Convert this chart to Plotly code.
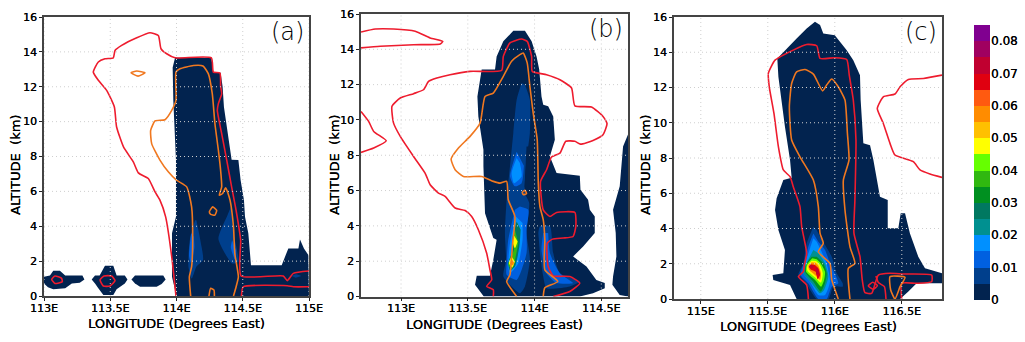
import plotly.graph_objects as go

# values: (longitude, altitude km)
a_navy = [(114.0,0),(113.966,1.1),(113.966,3.6),(113.996,4.55),(113.996,7.8),(113.976,11.2),(113.971,13.1),(113.989,13.66),(114.263,13.66),(114.278,12.84),(114.333,12.8),(114.348,12),(114.358,10.84),(114.386,9.3),(114.416,7.82),(114.467,7.8),(114.484,6.64),(114.509,5.5),(114.517,4.54),(114.542,3.6),(114.562,1.77),(114.794,1.77),(114.844,2.73),(114.92,2.73),(114.932,3.24),(114.962,2.73),(114.995,2.35),(115,0)]
a_blob1 = [(113.0,1.1),(113.045,1.18),(113.07,1.45),(113.12,1.45),(113.16,1.18),(113.29,1.18),(113.305,0.95),(113.27,0.76),(113.21,0.72),(113.16,0.44),(113.07,0.38),(113.03,0.5),(113.0,0.72)]
a_blob2 = [(113.36,0.95),(113.385,1.18),(113.42,1.18),(113.46,1.74),(113.523,1.74),(113.548,1.18),(113.61,1.18),(113.63,0.95),(113.61,0.72),(113.548,0.38),(113.523,0.06),(113.448,0.06),(113.41,0.44),(113.385,0.72)]
a_blob3 = [(113.66,0.95),(113.687,1.18),(113.9,1.18),(113.918,0.95),(113.888,0.69),(113.85,0.53),(113.725,0.53),(113.687,0.72)]
a_blue_left = [(114.14,4.35),(114.1,3.2),(114.09,1.68),(114.115,1.0),(114.15,1.68),(114.2,2.06),(114.18,3.2),(114.15,4.35)]
a_blue_right = [(114.38,4.54),(114.316,3.3),(114.366,2.44),(114.42,1.87),(114.467,1.97),(114.43,3.6),(114.41,5.1)]
a_blue_low = [(114.87,1.15),(114.9,1.25),(114.94,1.15),(114.9,1.05)]
a_mid_left = [(114.11,3.6),(114.095,2.3),(114.11,1.9),(114.135,2.8),(114.13,3.4)]
a_mid_right = [(114.42,3.2),(114.41,2.8),(114.44,2.1),(114.45,2.6)]
a_red_main = [(113.996,0),(113.964,2.25),(113.918,4.54),(113.875,5.5),(113.838,5.97),(113.787,6.74),(113.712,7.06),(113.674,7.69),(113.6,8.55),(113.548,9.69),(113.531,10.84),(113.473,11.79),(113.41,12.37),(113.372,12.84),(113.41,13.42),(113.46,13.6),(113.523,13.66),(113.536,14.08),(113.586,14.37),(113.7,14.81),(113.8,15.1),(113.863,14.94),(113.883,14.18),(113.926,13.89),(113.989,13.66),(114.263,13.66),(114.278,12.84),(114.328,12.79),(114.333,12.02),(114.341,11.6),(114.316,11.03),(114.308,10.65),(114.341,9.31),(114.379,7.79),(114.416,6.26),(114.454,4.73),(114.484,3.2),(114.487,1.15),(114.806,1.15),(114.836,0.88),(114.882,1.3),(115,1.43)]
a_red_low = [(114.49,0),(114.504,0.53),(114.836,0.59),(114.882,0.53),(115,0.53)]
a_red_small1 = [(113.058,0.95),(113.083,1.15),(113.133,1.01),(113.138,0.82),(113.083,0.72),(113.058,0.95)]
a_red_small2 = [(113.423,0.92),(113.453,1.15),(113.51,1.15),(113.536,0.88),(113.498,0.57),(113.448,0.57),(113.423,0.92)]
a_orange_main = [(114.107,0),(114.097,1.1),(114.114,1.68),(114.122,3.2),(114.114,5.11),(114.077,6.26),(114.0,6.64),(113.938,7.12),(113.875,7.79),(113.8125,8.74),(113.805,9.5),(113.838,10.04),(113.913,10.11),(113.964,10.65),(113.996,11.22),(113.996,12.84),(114.026,13.03),(114.127,13.22),(114.2,13.19),(114.24,12.75),(114.27,11.6),(114.29,9.88),(114.316,8.36),(114.333,7.21),(114.341,6.26),(114.323,5.78),(114.348,5.88),(114.371,6.2),(114.404,5.5),(114.43,3.97),(114.44,2.44),(114.467,1.1),(114.45,0.53),(114.43,0)]
a_orange_top = [(113.657,12.8),(113.7,12.9),(113.762,12.8),(113.71,12.61),(113.657,12.8)]
a_orange_mid = [(114.248,4.83),(114.273,5.11),(114.303,4.92),(114.29,4.64),(114.258,4.68),(114.248,4.83)]
a_orange_low = [(114.245,0),(114.258,0.44),(114.283,0.34),(114.286,0)]

b_navy = [(113.62,0),(113.554,0.66),(113.567,1.17),(113.666,1.17),(113.691,2.08),(113.716,3.21),(113.691,3.31),(113.629,4.72),(113.617,7.37),(113.617,8.31),(113.579,10.2),(113.572,11.33),(113.604,12.85),(113.704,12.85),(113.716,13.6),(113.766,14.45),(113.841,15.05),(113.928,15.05),(113.978,14.45),(114.015,13.6),(114.035,12.85),(114.052,11.33),(114.065,10.86),(114.102,10.77),(114.14,10.2),(114.152,8.88),(114.115,7.93),(114.165,6.99),(114.339,6.84),(114.344,6.04),(114.401,5.48),(114.414,4.91),(114.451,4.53),(114.451,3.59),(114.364,2.83),(114.289,2.27),(114.389,1.7),(114.463,0.94),(114.526,0.76),(114.526,0.47),(114.438,0.19),(114.339,0)]
b_navy_right = [(114.7,9.17),(114.663,8.5),(114.638,6.24),(114.588,4.91),(114.608,3.59),(114.613,2.27),(114.588,1.13),(114.583,0.66),(114.638,0.09),(114.7,0)]
b_blue_center = [(113.903,12.09),(113.866,11.15),(113.841,9.26),(113.816,7.37),(113.791,5.48),(113.778,3.59),(113.786,2.08),(113.766,1.13),(113.828,0.57),(113.891,0.19),(113.928,0.57),(113.965,2.08),(113.94,3.59),(113.96,5.29),(113.928,5.86),(113.94,7.75),(113.965,9.26),(113.965,11.15),(113.928,12.0)]
b_blue_right = [(114.028,3.59),(114.04,3.97),(114.115,3.97),(114.14,2.46),(114.19,1.32),(114.339,0.85),(114.264,0.57),(114.09,0.47),(114.065,1.13),(114.04,2.46)]
b_navy_hole = [(113.925,6.2),(113.94,8.5),(113.978,8.5),(113.983,7.4),(113.965,5.7)]
b_mid_upper = [(113.866,8.2),(113.816,6.8),(113.853,6.24),(113.903,6.42),(113.92,7.4)]
b_mid_lower = [(113.853,4.91),(113.803,3.21),(113.791,1.89),(113.791,1.23),(113.866,0.94),(113.94,2.46),(113.94,3.78),(113.953,4.91),(113.89,5.1)]
b_mid_right = [(114.065,3.59),(114.052,2.65),(114.09,1.32),(114.165,0.76),(114.289,0.76),(114.19,1.32),(114.115,2.46),(114.102,3.59)]
b_light_upper = [(113.866,7.84),(113.828,6.99),(113.846,6.42),(113.903,6.8),(113.89,7.56)]
b_light_lower = [(113.86,4.53),(113.816,3.02),(113.803,1.7),(113.816,1.32),(113.878,1.89),(113.91,3.21),(113.91,4.16)]
b_teal = [(113.866,4.25),(113.836,3.4),(113.828,2.46),(113.803,1.89),(113.816,1.47),(113.853,1.7),(113.886,2.83),(113.896,3.78)]
b_green = [(113.853,3.78),(113.836,3.21),(113.846,2.65),(113.816,2.17),(113.803,1.8),(113.828,1.55),(113.853,2.08),(113.878,3.02)]
b_yellow_upper = [(113.848,3.44),(113.836,3.12),(113.853,2.74),(113.873,3.12)]
b_yellow_lower = [(113.828,2.27),(113.808,1.89),(113.833,1.64),(113.853,1.98)]
b_orange_spot = [(113.828,2.08),(113.818,1.85),(113.841,1.76),(113.846,1.98)]
b_red_main = [(113.691,0),(113.691,0.38),(113.641,0.57),(113.679,0.94),(113.666,1.51),(113.641,2.46),(113.579,3.78),(113.529,4.53),(113.48,4.87),(113.405,5.01),(113.33,5.67),(113.28,5.86),(113.218,6.33),(113.18,6.99),(113.094,7.93),(112.994,9.07),(112.944,9.82),(112.932,10.77),(112.994,11.24),(113.094,11.49),(113.168,11.71),(113.206,12.18),(113.268,12.37),(113.367,12.56),(113.517,12.75),(113.754,12.81),(113.766,13.6),(113.816,14.36),(113.903,14.58),(113.945,14.45),(113.978,13.6),(113.983,12.75),(114.09,12.56),(114.19,12.28),(114.277,11.81),(114.302,10.8),(114.426,10.73),(114.513,10.2),(114.543,9.79),(114.513,9.16),(114.438,8.84),(114.344,8.63),(114.302,8.79),(114.234,8.79),(114.19,8.12),(114.127,7.9),(114.09,7.18),(114.045,6.52),(114.065,4.91),(114.115,4.53),(114.165,4.76),(114.302,4.76),(114.309,3.97),(114.289,3.4),(114.214,3.31),(114.135,3.25),(114.095,3.02),(114.102,1.7),(114.14,1.17),(114.264,1.13),(114.339,0.76),(114.264,0.28),(114.14,0)]
b_red_top = [(112.7,14.98),(112.807,15.15),(112.944,15.15),(113.106,15.02),(113.218,14.64),(113.313,14.45),(113.293,14.3),(113.094,14.26),(112.844,14.17),(112.7,14.08)]
b_red_left = [(112.7,10.48),(112.757,9.92),(112.795,9.35),(112.889,8.82),(112.795,8.41),(112.7,8.16)]
b_orange_main = [(113.866,0),(113.791,0.85),(113.816,1.23),(113.828,2.27),(113.836,3.02),(113.853,4.53),(113.803,5.48),(113.791,6.52),(113.741,6.42),(113.691,6.52),(113.604,6.8),(113.467,6.8),(113.405,7.18),(113.375,7.78),(113.43,8.41),(113.517,9.07),(113.592,9.82),(113.629,11.33),(113.691,11.52),(113.766,12.47),(113.828,13.32),(113.89,13.7),(113.915,13.79),(113.945,13.23),(113.965,11.9),(113.99,10.39),(114.02,8.88),(114.028,6.42),(114.04,5.1),(114.065,4.35),(114.077,3.21),(114.077,1.51),(114.174,0.85),(114.077,0.49),(114.065,0)]
b_orange_small = [(113.908,5.9),(113.928,6.01),(113.94,5.82),(113.915,5.77),(113.908,5.9)]

c_navy = [(115.715,0),(115.666,0.79),(115.541,1.08),(115.536,1.36),(115.616,1.46),(115.628,2.78),(115.579,3.91),(115.554,5.05),(115.566,5.71),(115.616,6.75),(115.678,6.88),(115.666,7.88),(115.628,9.77),(115.579,12.61),(115.571,13.65),(115.64,14.22),(115.715,14.78),(115.79,15.35),(115.852,15.73),(115.89,15.54),(115.914,15.07),(116.0,14.97),(116.089,14.12),(116.138,13.55),(116.188,12.7),(116.193,11.29),(116.213,8.83),(116.263,8.73),(116.288,7.88),(116.337,5.8),(116.395,5.61),(116.395,4.01),(116.474,4.01),(116.492,4.86),(116.524,4.86),(116.561,3.72),(116.623,2.4),(116.673,1.74),(116.8,1.46),(116.8,0.89),(116.611,0.89),(116.549,0.42),(116.487,0)]
c_blue_dark = [(115.84,4.1),(115.79,3.16),(115.765,2.02),(115.728,1.36),(115.778,0.98),(115.865,0),(115.952,0),(115.989,0.7),(116.059,0.7),(116.059,0.89),(116.014,1.46),(115.977,2.4),(115.927,3.06),(115.902,3.35),(115.865,3.91)]
c_blue_mid = [(115.84,3.72),(115.802,2.97),(115.778,2.21),(115.745,1.36),(115.802,0.89),(115.877,0),(115.939,0),(115.977,0.7),(116.026,0.89),(115.964,2.02),(115.927,2.78),(115.877,3.25)]
c_blue_light = [(115.84,3.44),(115.815,2.87),(115.778,2.02),(115.765,1.46),(115.815,0.98),(115.877,0.23),(115.927,0.23),(115.964,0.98),(115.939,2.02),(115.89,2.87),(115.865,3.25)]
c_teal = [(115.781,1.93),(115.766,1.46),(115.827,0.89),(115.89,0.32),(115.92,0.51),(115.952,1.27),(115.927,2.02),(115.877,2.59),(115.84,2.78)]
c_green = [(115.827,2.4),(115.79,2.02),(115.778,1.55),(115.84,0.98),(115.895,0.42),(115.927,0.89),(115.94,1.46),(115.914,2.02),(115.865,2.4)]
c_lime = [(115.832,2.31),(115.79,1.93),(115.786,1.55),(115.853,1.08),(115.898,0.7),(115.92,1.08),(115.927,1.55),(115.895,2.02),(115.865,2.25)]
c_yellow = [(115.827,2.17),(115.795,1.89),(115.795,1.61),(115.86,1.17),(115.897,0.93),(115.91,1.46),(115.89,1.93),(115.86,2.15)]
c_orange = [(115.827,2.08),(115.802,1.89),(115.81,1.64),(115.865,1.27),(115.89,1.08),(115.897,1.46),(115.877,1.89),(115.857,2.06)]
c_red = [(115.822,1.97),(115.807,1.83),(115.82,1.68),(115.857,1.55),(115.872,1.12),(115.89,1.36),(115.877,1.74),(115.852,1.93)]
c_crimson1 = [(115.82,1.93),(115.807,1.83),(115.832,1.74),(115.845,1.87)]
c_crimson2 = [(115.857,1.74),(115.865,1.36),(115.882,1.46),(115.872,1.78)]
c_red_main = [(115.803,0),(115.79,0.79),(115.728,1.27),(115.765,1.55),(115.773,1.93),(115.79,2.59),(115.753,4.1),(115.74,5.24),(115.69,6.37),(115.666,6.94),(115.616,7.32),(115.579,8.64),(115.546,10.53),(115.511,12.04),(115.504,12.8),(115.554,13.55),(115.69,14.12),(115.79,14.44),(115.865,14.37),(115.89,13.65),(116.0,13.69),(116.089,13.59),(116.108,12.7),(116.138,11.29),(116.158,9.02),(116.15,5.61),(116.143,3.72),(116.188,2.4),(116.205,1.08),(116.225,0.36),(116.275,0.32),(116.325,1.36),(116.412,1.46),(116.511,1.42),(116.723,1.36),(116.723,0.98),(116.611,0.89),(116.499,0.89),(116.499,0)]
c_red_circle = [(116.25,0.74),(116.283,0.95),(116.318,0.76),(116.288,0.55),(116.25,0.74)]
c_red_inner = [(116.382,0),(116.37,0.7),(116.325,0.93),(116.307,1.3)]
c_red_right = [(116.8,12.7),(116.661,12.51),(116.549,12.46),(116.487,12.04),(116.449,11.63),(116.362,11.47),(116.317,10.81),(116.362,9.96),(116.412,8.83),(116.449,8.17),(116.586,7.79),(116.636,7.32),(116.71,7.09),(116.8,6.9)]
c_orange_main = [(116.026,0),(115.977,1.1),(115.964,2.02),(115.877,2.68),(115.914,3.16),(115.89,3.72),(115.877,5.24),(115.84,6.75),(115.74,8.07),(115.678,9.02),(115.661,10.91),(115.678,12.23),(115.715,12.89),(115.778,13.02),(115.84,12.76),(115.909,11.81),(115.939,12.14),(115.977,12.48),(116.026,12.04),(116.076,11.29),(116.094,9.4),(116.106,7.88),(116.064,6.75),(116.076,5.05),(116.113,2.97),(116.15,2.02),(116.101,1.74),(116.113,0)]
c_orange_small = [(116.449,0),(116.417,0.51),(116.412,1.27),(116.524,1.23),(116.487,0.7),(116.449,0)]

a_ticks = [113, 113.5, 114, 114.5, 115]
a_ticktext = ["113E", "113.5E", "114E", "114.5E", "115E"]
b_ticks = [113, 113.5, 114, 114.5]
b_ticktext = ["113E", "113.5E", "114E", "114.5E"]
c_ticks = [115, 115.5, 116, 116.5]
c_ticktext = ["115E", "115.5E", "116E", "116.5E"]
alt_ticks = [0, 2, 4, 6, 8, 10, 12, 14, 16]

level_colors = ["#02234f", "#003f8c", "#0060e0", "#0090ff", "#009090", "#007860", "#009020", "#30b810", "#66ff00",
                "#ffff00", "#ffc000", "#ff8c00", "#ff5a10", "#e00010", "#c00030", "#a00060", "#800090"]
level_mid = [0.0025, 0.0075, 0.0125, 0.0175, 0.0225, 0.0275, 0.0325, 0.0375, 0.0425,
             0.0475, 0.0525, 0.0575, 0.0625, 0.0675, 0.0725, 0.0775, 0.0825]
bar_ticks = [0, 0.01, 0.02, 0.03, 0.04, 0.05, 0.06, 0.07, 0.08]
bar_ticktext = ["0", "0.01", "0.02", "0.03", "0.04", "0.05", "0.06", "0.07", "0.08"]

RED = "#ee1c2e"
ORANGE = "#f07820"
W, H = 1025, 342
GRID = "#cfcfcf"
# a hair of text shadow thickens the glyphs to match the heavy look of the original labels
TEXT = dict(family="DejaVu Sans", color="#000", shadow="0.25px 0 0 #000")

panels = [
    dict(name="(a)", xrange=[113, 115], box=(44, 309, 17, 296), ticks=a_ticks, ticktext=a_ticktext, ytitle_x=16, xtitle_y=323.5,
         fills=[(a_navy, 0), (a_blob1, 0), (a_blob2, 0), (a_blob3, 0), (a_blue_left, 1), (a_blue_right, 1),
                (a_blue_low, 1), (a_mid_left, 2), (a_mid_right, 2)],
         reds=[a_red_main, a_red_low, a_red_small1, a_red_small2],
         oranges=[a_orange_main, a_orange_top, a_orange_mid, a_orange_low]),
    dict(name="(b)", xrange=[112.7, 114.7], box=(361, 628, 14, 296.5), ticks=b_ticks, ticktext=b_ticktext, ytitle_x=335, xtitle_y=324,
         fills=[(b_navy, 0), (b_navy_right, 0), (b_blue_center, 1), (b_blue_right, 1), (b_navy_hole, 0),
                (b_mid_upper, 2), (b_mid_lower, 2), (b_mid_right, 2), (b_light_upper, 3), (b_light_lower, 3),
                (b_teal, 5), (b_green, 7), (b_yellow_upper, 9), (b_yellow_lower, 9), (b_orange_spot, 11)],
         reds=[b_red_main, b_red_top, b_red_left],
         oranges=[b_orange_main, b_orange_small]),
    dict(name="(c)", xrange=[114.8, 116.8], box=(674, 942, 17, 299), ticks=c_ticks, ticktext=c_ticktext, ytitle_x=646, xtitle_y=326,
         fills=[(c_navy, 0), (c_blue_dark, 1), (c_blue_mid, 2), (c_blue_light, 3), (c_teal, 4), (c_green, 6),
                (c_lime, 8), (c_yellow, 9), (c_orange, 11), (c_red, 13), (c_crimson1, 14), (c_crimson2, 14)],
         reds=[c_red_main, c_red_circle, c_red_inner, c_red_right],
         oranges=[c_orange_main, c_orange_small]),
]

fig = go.Figure()


def add_outline(points, axis_id, color, fill=False, smooth=True):
    trace = go.Scatter(x=[p[0] for p in points], y=[p[1] for p in points], mode="lines",
                       xaxis="x" + axis_id, yaxis="y" + axis_id, hoverinfo="skip", showlegend=False)
    if fill:
        trace.fill = "toself"
        trace.fillcolor = color
        trace.line = dict(width=0, shape="spline" if smooth else "linear", smoothing=0.6)
    else:
        trace.line = dict(color=color, width=1.6, shape="spline", smoothing=0.5)
    fig.add_trace(trace)


layout = {}
axis_ids = ["", "2", "3"]
for axis_id, p in zip(axis_ids, panels):
    for pts, lev in p["fills"]:
        add_outline(pts, axis_id, level_colors[lev], fill=True, smooth=lev > 0)
    for pts in p["reds"]:
        add_outline(pts, axis_id, RED)
    for pts in p["oranges"]:
        add_outline(pts, axis_id, ORANGE)

    x0, x1, y0, y1 = p["box"]
    layout["xaxis" + axis_id] = dict(
        domain=[x0 / W, x1 / W], range=p["xrange"], anchor="y" + axis_id, tickvals=p["ticks"],
        ticktext=p["ticktext"], ticks="outside", ticklen=3, tickcolor="#222", showgrid=False, zeroline=False,
        showline=True, mirror=True, linecolor="#444", linewidth=1.5, automargin=False, ticklabelstandoff=-2,
        tickfont=dict(size=11, **TEXT))
    layout["yaxis" + axis_id] = dict(
        domain=[(H - y1) / H, (H - y0) / H], range=[0, 16], anchor="x" + axis_id, tickvals=alt_ticks,
        ticks="outside", ticklen=3, tickcolor="#222", showgrid=False, zeroline=False,
        showline=True, mirror=True, linecolor="#444", linewidth=1.5, automargin=False,
        tickfont=dict(size=11, **TEXT))

fig.add_trace(go.Heatmap(x=[0], y=level_mid, z=[[v] for v in level_mid], xaxis="x4", yaxis="y4",
                         colorscale=[[(j + k) / 17, c] for j, c in enumerate(level_colors) for k in (0, 1)],
                         zmin=0, zmax=0.085, showscale=False, hoverinfo="skip"))
layout["xaxis4"] = dict(domain=[974 / W, 990 / W], anchor="y4", visible=False)
layout["yaxis4"] = dict(domain=[(H - 300) / H, (H - 25) / H], range=[0, 0.085], anchor="x4", side="right",
                        tickvals=bar_ticks, ticktext=bar_ticktext, ticks="", showgrid=False, zeroline=False,
                        showline=False, automargin=False, tickfont=dict(size=12, **TEXT))

fig.update_layout(width=W, height=H, margin=dict(l=0, r=0, t=0, b=0), paper_bgcolor="white", plot_bgcolor="white",
                  showlegend=False, **layout)

# dotted grid sits over the shading in the original, so it goes in as shapes above the traces
for axis_id, p in zip(axis_ids, panels):
    for t in p["ticks"]:
        fig.add_shape(type="line", x0=t, x1=t, y0=0, y1=16, xref="x" + axis_id, yref="y" + axis_id, layer="above",
                      line=dict(color=GRID, width=1, dash="1px,3px"))
    for t in alt_ticks[1:-1]:
        fig.add_shape(type="line", x0=p["xrange"][0], x1=p["xrange"][1], y0=t, y1=t, xref="x" + axis_id,
                      yref="y" + axis_id, layer="above", line=dict(color=GRID, width=1, dash="1px,3px"))
    fig.add_annotation(text=p["name"], xref="x" + axis_id + " domain", yref="y" + axis_id + " domain", x=0.99, y=1.005,
                       xanchor="right", yanchor="top", showarrow=False,
                       font=dict(family="DejaVu Sans Light, Liberation Sans", size=24, color="#000"))
    x0, x1, y0, y1 = p["box"]
    fig.add_annotation(text="LONGITUDE (Degrees East)", xref="paper", yref="paper", x=(x0 + x1) / 2 / W, y=(H - p["xtitle_y"]) / H,
                       xanchor="center", yanchor="middle", showarrow=False, font=dict(size=13, **TEXT))
    fig.add_annotation(text="ALTITUDE\u00a0\u00a0(km)", xref="paper", yref="paper", x=p["ytitle_x"] / W, y=(H - 165) / H,
                       xanchor="center", yanchor="middle", textangle=-90, showarrow=False,
                       font=dict(size=13, **TEXT))

fig.write_html("out.html", config={"displayModeBar": False}, post_script="document.body.style.margin='0';")
